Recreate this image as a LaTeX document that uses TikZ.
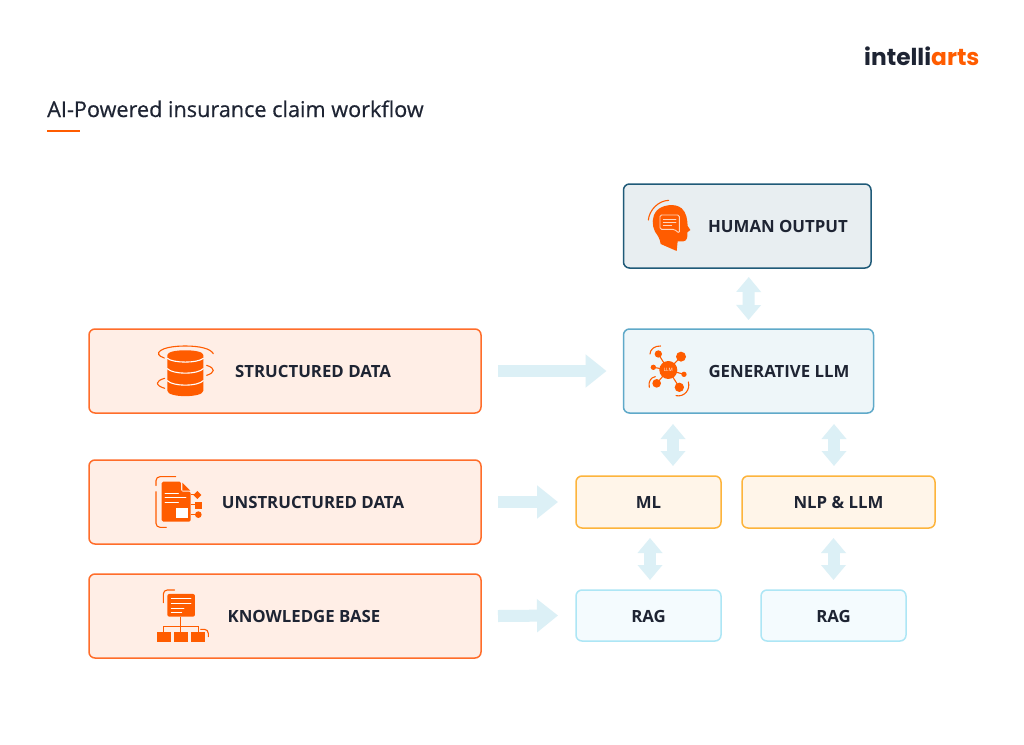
\documentclass[tikz,border=0pt]{standalone}
\usepackage{fontspec}
\setmainfont{Open Sans}
\newfontfamily\logofont{Poppins}
\newfontfamily\labelfont{Open Sans}
\newfontfamily\titlefont[FakeBold=0.5]{Open Sans}
\usetikzlibrary{arrows.meta}
\definecolor{ink}{HTML}{1E2433}
\definecolor{orng}{HTML}{FF5C00}
\definecolor{flowc}{HTML}{DCF0F6}
\definecolor{dataedge}{HTML}{FF6D2A}
\definecolor{datafill}{HTML}{FFEEE6}
\definecolor{hoedge}{HTML}{1F5A78}
\definecolor{hofill}{HTML}{E8EEF1}
\definecolor{genedge}{HTML}{5FA9C9}
\definecolor{genfill}{HTML}{EEF6F9}
\definecolor{midedge}{HTML}{FDB43C}
\definecolor{midfill}{HTML}{FFF5E9}
\definecolor{ragedge}{HTML}{ADE6F5}
\definecolor{ragfill}{HTML}{F4FBFE}
\tikzset{
  box/.style={draw,rounded corners=6pt,line width=1.5pt,outer sep=0pt,inner sep=0pt,text=ink,text height=13.3pt,text depth=0pt,font=\labelfont\bfseries\fontsize{16.8}{18}\selectfont},
  databox/.style={box,draw=dataedge,fill=datafill,minimum width=392pt,minimum height=84pt},
  humanbox/.style={box,draw=hoedge,fill=hofill,minimum width=247.5pt,minimum height=84pt},
  genbox/.style={box,draw=genedge,fill=genfill,minimum width=250pt,minimum height=84pt},
  midbox/.style={box,draw=midedge,fill=midfill,minimum height=52pt},
  ragbox/.style={box,draw=ragedge,fill=ragfill,minimum width=145pt,minimum height=51pt},
  lbl/.style={inner sep=0pt,text=ink,text height=13.3pt,text depth=0pt,font=\labelfont\bfseries\fontsize{16.8}{18}\selectfont},
  flow/.style={draw=flowc,line width=12pt,-{Triangle[length=21pt,width=32pt]}},
  flowtwo/.style={draw=flowc,line width=12pt,{Triangle[length=15pt,width=24pt]}-{Triangle[length=15pt,width=24pt]}},
  ic/.style={fill=orng,draw=none},
  icl/.style={draw=orng,line width=1.1pt,line cap=round,fill=none},
  icw/.style={draw=white,line width=.9pt,line cap=round},
  zoomA/.style={shift={(620,170)},x=.3333pt,y=-.3333pt},
  zoomB/.style={shift={(80,320)},x=.3333pt,y=-.3333pt},
}
\begin{document}
\begin{tikzpicture}[x=1pt,y=-1pt]
\useasboundingbox (0,0) rectangle (1024,744);
\fill[white] (0,0) rectangle (1024,744);

% title and logo
\node[anchor=base west,inner sep=0pt,text=ink,font=\titlefont\fontsize{21.65}{26}\selectfont] (title) at (47,117) {AI-Powered insurance claim workflow};
\coordinate (ruleA) at (47,131);
\coordinate (ruleB) at (80,131);
\draw[orng,line width=1.4pt] (ruleA) -- (ruleB);
\node[anchor=base west,inner sep=0pt,font=\logofont\bfseries\fontsize{23.3}{28}\selectfont] (logo) at (864,65) {\textcolor{ink}{intelli}\textcolor{orng}{arts}};

% boxes
\node[humanbox] (human) at (747.25,226) {};
\node[genbox] (gen) at (748.5,371) {};
\node[databox] (struct) at (285,371) {};
\node[databox] (unstruct) at (285,502) {};
\node[databox] (know) at (285,616) {};
\node[midbox,minimum width=145pt] (ml) at (648.5,502) {ML};
\node[midbox,minimum width=193pt] (nlp) at (838.5,502) {NLP \& LLM};
\node[ragbox] (ragA) at (648.5,615.5) {RAG};
\node[ragbox] (ragB) at (833.5,615.5) {RAG};

% box labels beside the icons
\node[lbl] (humanT) at (778,226) {HUMAN OUTPUT};
\node[lbl] (genT) at (779,371) {GENERATIVE LLM};
\node[lbl] (structT) at (313,371) {STRUCTURED DATA};
\node[lbl] (unstructT) at (313,502) {UNSTRUCTURED DATA};
\node[lbl] (knowT) at (304,616) {KNOWLEDGE BASE};

% connectors
\draw[flow] ([xshift=17pt]struct.east) -- ([xshift=-17pt]gen.west |- struct.east);
\draw[flow] ([xshift=17pt]unstruct.east) -- ([xshift=-18pt]ml.west);
\draw[flow] ([xshift=17pt]know.east) -- ([xshift=-18pt]ragA.west);
\draw[flowtwo] ([xshift=1.5pt,yshift=-9pt]human.south) -- ([yshift=9pt]gen.north);
\coordinate (genL) at ([xshift=49.5pt]gen.south west);
\coordinate (genR) at ([xshift=210.5pt]gen.south west);
\draw[flowtwo] ([yshift=-11pt]genL) -- ([yshift=10pt]genL |- ml.north);
\draw[flowtwo] ([yshift=-11pt]genR) -- ([yshift=10pt]genR |- nlp.north);
\draw[flowtwo] ([xshift=1.5pt,yshift=-10pt]ml.south) -- ([xshift=1.5pt,yshift=10pt]ragA.north);
\draw[flowtwo] ([yshift=-10pt]ragB.north |- nlp.south) -- ([yshift=10pt]ragB.north);

% human icon
\begin{scope}[zoomA]
\fill[ic] (122,222) .. controls (120,205) and (112,195) .. (105,185)
  .. controls (95,165) and (95,140) .. (110,122)
  .. controls (125,105) and (165,98) .. (185,115)
  .. controls (200,128) and (202,150) .. (203,168)
  -- (211,180) -- (202,187) .. controls (203,200) and (202,213) .. (190,214)
  -- (173,214) -- (170,243) -- cycle;
\draw[icl] (85,150) .. controls (88,120) and (115,92) .. (146,91);
\draw[draw=white!75!orng,line width=.9pt,line join=round,rounded corners=1.5pt] (120,135) -- (178,135) -- (178,190) -- (163,178) -- (120,178) -- cycle;
\draw[icw,white!75!orng] (130,148) -- (168,148) (130,157) -- (168,157) (130,166) -- (155,166);
\end{scope}

% LLM icon
\begin{scope}[zoomA]
\draw[orng,line width=1.1pt] (145,600) -- (115,552) (145,600) -- (183,560) (145,600) -- (100,592)
  (145,600) -- (192,613) (145,600) -- (110,640) (145,600) -- (178,652);
\fill[ic] (145,600) circle[radius=27];
\fill[ic] (115,552) circle[radius=11];
\fill[ic] (183,560) circle[radius=15];
\fill[ic] (100,592) circle[radius=8];
\fill[ic] (192,613) circle[radius=8];
\fill[ic] (110,640) circle[radius=13];
\fill[ic] (178,652) circle[radius=14];
\draw[icl] (90,552) .. controls (90,538) and (105,527) .. (122,528);
\draw[icl] (88,652) .. controls (84,636) and (92,622) .. (106,620);
\draw[icl] (205,636) .. controls (212,660) and (192,682) .. (168,677);
\end{scope}
\node[inner sep=0pt,text=white,font=\labelfont\fontsize{4.6}{5}\selectfont] (llmT) at (668.3,370) {LLM};

% database icon
\begin{scope}[zoomB]
\fill[ic] (262,105) .. controls (262,86) and (370,86) .. (370,105) -- (370,212)
  .. controls (370,234) and (262,234) .. (262,212) -- cycle;
\draw[icw,line width=1.1pt] (262,115) .. controls (280,130) and (352,130) .. (370,115);
\draw[icw,line width=1.1pt] (262,146) .. controls (280,164) and (352,164) .. (370,146);
\draw[icw,line width=1.1pt] (262,182) .. controls (280,200) and (352,200) .. (370,182);
\draw[icl] (253,114) .. controls (215,102) and (240,78) .. (316,78) .. controls (360,78) and (392,86) .. (400,101);
\draw[icl] (380,136) .. controls (408,145) and (405,158) .. (380,166);
\draw[icl] (254,175) .. controls (225,183) and (225,196) .. (254,205);
\end{scope}

% document icon
\begin{scope}[zoomB]
\fill[ic,rounded corners=1.5pt] (245,485) -- (303,485) -- (303,515) -- (332,515) -- (332,605) -- (245,605) -- cycle;
\fill[ic] (307,488) -- (331,512) -- (307,512) -- cycle;
\fill[white] (287,565) rectangle (323,595);
\draw[icw] (255,520) -- (295,520) (255,532) -- (318,532) (255,546) -- (295,546);
\draw[orng,line width=1pt] (332,525) -- (345,525) (332,555) -- (345,555) (332,584) -- (345,584);
\fill[ic] (352,513) -- (364,525) -- (352,537) -- (340,525) -- cycle;
\fill[ic] (345,545) rectangle (366,566);
\fill[ic] (355,584) circle[radius=10];
\draw[icl,rounded corners=4pt] (287,470) -- (228,470) -- (228,497);
\draw[icl,rounded corners=4pt] (228,515) -- (228,622) -- (259,622);
\end{scope}

% knowledge base icon
\begin{scope}[zoomB]
\fill[ic,rounded corners=2pt] (262,822) rectangle (345,890);
\draw[icw] (274,836) -- (333,836) (274,850) -- (333,850) (274,864) -- (312,864) (274,877) -- (305,877);
\draw[icl,rounded corners=4pt] (284,810) -- (250,810) -- (250,848);
\draw[orng,line width=1pt] (303,890) -- (303,937);
\draw[orng,line width=1pt] (252,937) -- (252,920) -- (355,920) -- (355,937);
\fill[ic] (230,937) rectangle (273,965);
\fill[ic] (281,937) rectangle (324,965);
\fill[ic] (332,937) rectangle (375,965);
\draw[icl,rounded corners=4pt] (362,928) -- (385,928) -- (385,950);
\end{scope}
\end{tikzpicture}
\end{document}
